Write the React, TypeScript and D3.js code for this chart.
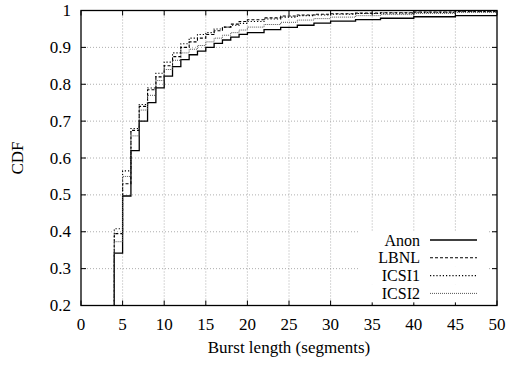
import React from "react";
import * as d3 from "d3";

const xTicks = [0, 5, 10, 15, 20, 25, 30, 35, 40, 45, 50];
const yTicks = [0.2, 0.3, 0.4, 0.5, 0.6, 0.7, 0.8, 0.9, 1];

const xs = [3, 4, 5, 6, 7, 8, 9, 10, 11, 12, 13, 14, 15, 16, 17, 18, 19, 20, 22, 24, 26, 28, 30, 33, 36, 40, 45, 50];
const anon = [0, 0.342, 0.497, 0.62, 0.70, 0.75, 0.79, 0.822, 0.848, 0.867, 0.88, 0.89, 0.9, 0.911, 0.92, 0.928, 0.935, 0.94, 0.948, 0.954, 0.96, 0.966, 0.971, 0.975, 0.979, 0.983, 0.986, 0.987];
const lbnl = [0, 0.395, 0.53, 0.675, 0.74, 0.785, 0.82, 0.85, 0.875, 0.9, 0.915, 0.925, 0.935, 0.945, 0.955, 0.963, 0.97, 0.975, 0.98, 0.985, 0.988, 0.99, 0.991, 0.993, 0.994, 0.996, 0.998, 0.999];
const icsi1 = [0, 0.408, 0.565, 0.68, 0.745, 0.79, 0.83, 0.86, 0.885, 0.91, 0.925, 0.935, 0.94, 0.95, 0.955, 0.96, 0.965, 0.97, 0.977, 0.982, 0.986, 0.988, 0.99, 0.992, 0.993, 0.995, 0.997, 0.998];
const icsi2 = [0, 0.373, 0.55, 0.66, 0.73, 0.77, 0.81, 0.84, 0.865, 0.885, 0.895, 0.905, 0.915, 0.925, 0.933, 0.94, 0.947, 0.955, 0.962, 0.968, 0.974, 0.978, 0.982, 0.986, 0.989, 0.992, 0.995, 0.997];

const seriesNames = ["Anon", "LBNL", "ICSI1", "ICSI2"];
const seriesValues = [anon, lbnl, icsi1, icsi2];
const seriesStyles = [
  { stroke: "#000", width: 1.3, dash: "" },
  { stroke: "#000", width: 1.1, dash: "3,2" },
  { stroke: "#000", width: 1.1, dash: "1.2,2" },
  { stroke: "#555", width: 1.0, dash: "1,1" },
];

export default function App() {
  const W = 510, H = 367;
  const L = 81, R = 497, T = 10.5, B = 305.5;
  const x = d3.scaleLinear().domain([0, 50]).range([L, R]);
  const y = d3.scaleLinear().domain([0.2, 1]).range([B, T]);
  const font = "'Liberation Serif', 'Times New Roman', serif";
  const fs = 17;
  const lfs = 16;

  const line = d3
    .line<[number, number]>()
    .x((d) => x(d[0]))
    .y((d) => y(d[1]))
    .curve(d3.curveStepAfter);

  const legendY = [240, 257.8, 275.6, 293.4];

  return (
    <svg width={W} height={H} style={{ position: "absolute", left: 0, top: 0, background: "#fff" }} fontFamily={font}>
      <defs>
        <clipPath id="plot">
          <rect x={L} y={T - 1} width={R - L} height={B - T + 1} />
        </clipPath>
      </defs>
      {/* grid */}
      {xTicks.slice(1, -1).map((t) => (
        <line key={"gx" + t} x1={x(t)} x2={x(t)} y1={T} y2={B} stroke="#999" strokeWidth={0.8} strokeDasharray="1,2" />
      ))}
      {yTicks.slice(1, -1).map((t) => (
        <line key={"gy" + t} x1={L} x2={R} y1={y(t)} y2={y(t)} stroke="#999" strokeWidth={0.8} strokeDasharray="1,2" />
      ))}
      {/* ticks */}
      {xTicks.map((t) => (
        <g key={"tx" + t}>
          <line x1={x(t)} x2={x(t)} y1={B} y2={B - 5} stroke="#000" />
          <line x1={x(t)} x2={x(t)} y1={T} y2={T + 5} stroke="#000" />
          <text x={x(t)} y={B + 24.5} fontSize={fs} textAnchor="middle" fill="#000">{t}</text>
        </g>
      ))}
      {yTicks.map((t) => (
        <g key={"ty" + t}>
          <line x1={L} x2={L + 5} y1={y(t)} y2={y(t)} stroke="#000" />
          <line x1={R} x2={R - 5} y1={y(t)} y2={y(t)} stroke="#000" />
          <text x={L - 10} y={y(t) + 5.5} fontSize={fs} textAnchor="end" fill="#000">{t}</text>
        </g>
      ))}
      {/* series */}
      <g clipPath="url(#plot)">
        {seriesValues.map((vals, i) => {
          const pts: [number, number][] = xs.map((xv, j) => [xv, vals[j]]);
          return (
            <path
              key={seriesNames[i]}
              d={line(pts) || ""}
              fill="none"
              stroke={seriesStyles[i].stroke}
              strokeWidth={seriesStyles[i].width}
              strokeDasharray={seriesStyles[i].dash}
            />
          );
        })}
      </g>
      {/* legend */}
      {seriesNames.map((n, i) => (
        <rect key={"lg" + n} x={360} y={legendY[i] - 9} width={127} height={18} fill="#fff" />
      ))}
      {seriesNames.map((n, i) => (
        <g key={"lg2" + n}>
          <text x={420} y={legendY[i] + 5.5} fontSize={lfs} textAnchor="end" fill="#000">{n}</text>
          <line
            x1={430}
            x2={477}
            y1={legendY[i]}
            y2={legendY[i]}
            stroke={seriesStyles[i].stroke}
            strokeWidth={seriesStyles[i].width}
            strokeDasharray={seriesStyles[i].dash}
          />
        </g>
      ))}
      {/* border */}
      <rect x={L} y={T} width={R - L} height={B - T} fill="none" stroke="#000" strokeWidth={1.3} />
      {/* axis titles */}
      <text x={(L + R) / 2} y={353} fontSize={fs} textAnchor="middle" fill="#000">Burst length (segments)</text>
      <text transform={`translate(23, ${(T + B) / 2}) rotate(-90)`} fontSize={fs} textAnchor="middle" fill="#000">CDF</text>
    </svg>
  );
}
